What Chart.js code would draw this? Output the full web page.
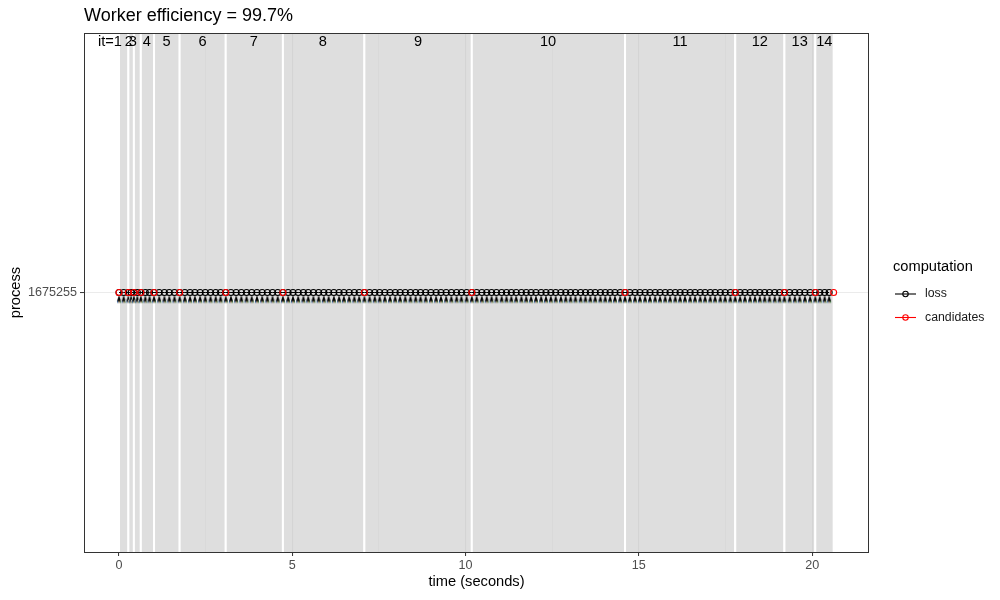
<!DOCTYPE html>
<html>
<head>
<meta charset="utf-8">
<script src="https://cdn.jsdelivr.net/npm/chart.js@4"></script>
<style>
  body { margin: 0; background: #fff; }
</style>
</head>
<body>
<canvas id="myChart" width="1000" height="600"></canvas>
<script>
  const FONT = "'Liberation Sans', Arial, sans-serif";

  // data
  const processId = 1675255;
  const plotTitle = 'Worker efficiency = 99.7%';
  const iterBounds = [0, 0.27, 0.43, 0.63, 1.01, 1.75, 3.08, 4.73, 7.08, 10.18, 14.60, 17.78, 19.20, 20.09, 20.62];
  const iterLabels = ['it=1', '2', '3', '4', '5', '6', '7', '8', '9', '10', '11', '12', '13', '14'];
  const iterLabelTimes = [-0.26, 0.28, 0.40, 0.80, 1.37, 2.41, 3.89, 5.88, 8.63, 12.38, 16.19, 18.49, 19.64, 20.35];
  const lossTimes = [
    0, 0.135,
    0.27, 0.35,
    0.43, 0.53,
    0.63, 0.76, 0.88,
    1.01, 1.16, 1.31, 1.45, 1.60,
    1.75, 1.90, 2.05, 2.19, 2.34, 2.49, 2.64, 2.79, 2.93,
    3.08, 3.23, 3.38, 3.53, 3.68, 3.83, 3.98, 4.13, 4.28, 4.43, 4.58,
    4.73, 4.88, 5.02, 5.17, 5.32, 5.46, 5.61, 5.76, 5.91, 6.05, 6.20, 6.35, 6.49, 6.64, 6.79, 6.93,
    7.08, 7.23, 7.38, 7.52, 7.67, 7.82, 7.97, 8.11, 8.26, 8.41, 8.56, 8.70, 8.85, 9.00, 9.15, 9.29, 9.44, 9.59, 9.74, 9.88, 10.03,
    10.18, 10.32, 10.47, 10.61, 10.75, 10.89, 11.04, 11.18, 11.32, 11.46, 11.61, 11.75, 11.89, 12.03, 12.18, 12.32,
    12.46, 12.60, 12.75, 12.89, 13.03, 13.17, 13.32, 13.46, 13.60, 13.74, 13.89, 14.03, 14.17, 14.31, 14.46,
    14.60, 14.74, 14.89, 15.03, 15.18, 15.32, 15.47, 15.61, 15.76, 15.90, 16.05, 16.19, 16.33, 16.48, 16.62, 16.77,
    16.91, 17.06, 17.20, 17.35, 17.49, 17.64,
    17.78, 17.92, 18.06, 18.21, 18.35, 18.49, 18.63, 18.77, 18.92, 19.06,
    19.20, 19.35, 19.50, 19.64, 19.79, 19.94,
    20.09, 20.22, 20.36, 20.49
  ];
  const candidateTimes = [0, 0.27, 0.43, 0.63, 1.01, 1.75, 3.08, 4.73, 7.08, 10.18, 14.60, 17.78, 19.20, 20.09, 20.62];
  const xMajorTicks = [0, 5, 10, 15, 20];
  const xMinorTicks = [2.5, 7.5, 12.5, 17.5];
  const seriesNames = ['loss', 'candidates'];
  const seriesColors = ['#000000', '#FF0000'];

  // little stem + triangle marker drawn under each loss point
  function makeStemMarker() {
    let c = document.createElement('canvas');
    c.width = 10; c.height = 24;
    let g = c.getContext('2d');
    // white halo so neighbouring stems stay apart
    g.fillStyle = '#ffffff';
    g.beginPath();
    g.moveTo(5, 14); g.lineTo(8.2, 21); g.lineTo(1.8, 21); g.closePath();
    g.fill();
    g.fillStyle = '#000';
    g.beginPath();
    g.moveTo(5, 14.5); g.lineTo(7.2, 21); g.lineTo(2.8, 21); g.closePath();
    g.fill();
    g.fillStyle = '#3f6ea8'; g.fillRect(3, 20.5, 1.5, 1.8);
    g.fillStyle = '#a0662e'; g.fillRect(4.5, 20.5, 1.2, 1.8);
    g.fillStyle = '#4f8a5a'; g.fillRect(5.7, 20.5, 1.3, 1.8);
    return c;
  }

  const iterationPlugin = {
    id: 'iterations',
    beforeDatasetsDraw(chart) {
      let {ctx, chartArea: a, scales: {x}} = chart;
      ctx.save();
      ctx.beginPath();
      ctx.rect(a.left, a.top, a.right - a.left, a.bottom - a.top);
      ctx.clip();
      for (let i = 0; i < iterBounds.length - 1; i++) {
        let x0 = x.getPixelForValue(iterBounds[i]);
        let x1 = x.getPixelForValue(iterBounds[i + 1]);
        ctx.fillStyle = 'rgba(190,190,190,0.5)';
        ctx.fillRect(x0, a.top, x1 - x0, a.bottom - a.top);
        ctx.strokeStyle = '#ffffff';
        ctx.lineWidth = 2;
        ctx.strokeRect(x0, a.top - 3, x1 - x0, a.bottom - a.top + 6);
      }
      ctx.restore();
    },
    afterDatasetsDraw(chart) {
      let {ctx, chartArea: a, scales: {x}} = chart;
      ctx.save();
      ctx.fillStyle = '#000';
      ctx.font = '14.6px ' + FONT;
      ctx.textAlign = 'center';
      ctx.textBaseline = 'middle';
      iterLabels.forEach(function(lab, i) {
        ctx.fillText(lab, x.getPixelForValue(iterLabelTimes[i]), a.top + 8.5);
      });
      // panel border
      ctx.strokeStyle = '#333333';
      ctx.lineWidth = 1;
      ctx.strokeRect(a.left + 0.5, a.top + 0.5, a.right - a.left - 1, a.bottom - a.top);
      ctx.restore();
    },
    afterDraw(chart) {
      let {ctx, chartArea: a} = chart;
      ctx.save();
      ctx.fillStyle = '#000';
      ctx.textBaseline = 'middle';
      ctx.font = '18px ' + FONT;
      ctx.textAlign = 'left';
      ctx.fillText(plotTitle, a.left, 16);

      ctx.font = '14.67px ' + FONT;
      ctx.textAlign = 'center';
      ctx.fillText('time (seconds)', (a.left + a.right) / 2, 582);
      ctx.save();
      ctx.translate(16, (a.top + a.bottom) / 2);
      ctx.rotate(-Math.PI / 2);
      ctx.fillText('process', 0, 0);
      ctx.restore();

      // legend
      ctx.textAlign = 'left';
      ctx.fillText('computation', 893, 267);
      ctx.font = '12.3px ' + FONT;
      seriesNames.forEach(function(name, i) {
        let y = 294 + i * 23.5;
        ctx.strokeStyle = seriesColors[i];
        ctx.lineWidth = 1.1;
        ctx.beginPath();
        ctx.moveTo(895, y); ctx.lineTo(916, y);
        ctx.stroke();
        ctx.beginPath();
        ctx.arc(905.5, y, 2.7, 0, Math.PI * 2);
        ctx.stroke();
        ctx.fillStyle = '#1a1a1a';
        ctx.fillText(name, 925, y);
      });
      ctx.restore();
    }
  };

  let ctx = document.getElementById('myChart').getContext('2d');

  let chart = new Chart(ctx, {
    type: 'scatter',
    data: {
      datasets: [{
        label: 'starts',
        data: lossTimes.map(t => ({x: t, y: processId})),
        pointStyle: makeStemMarker(),
        showLine: false,
        order: 3
      },
      {
        label: seriesNames[0],
        data: lossTimes.map(t => ({x: t, y: processId})),
        showLine: true,
        borderColor: seriesColors[0],
        borderWidth: 1,
        pointBorderColor: seriesColors[0],
        pointBackgroundColor: 'rgba(0,0,0,0)',
        pointRadius: 3,
        pointBorderWidth: 1.1,
        order: 2
      },
      {
        label: seriesNames[1],
        data: candidateTimes.map(t => ({x: t, y: processId})),
        showLine: false,
        pointBorderColor: seriesColors[1],
        pointBackgroundColor: 'rgba(0,0,0,0)',
        pointRadius: 3,
        pointBorderWidth: 1.1,
        order: 1
      }]
    },
    options: {
      responsive: false,
      animation: false,
      layout: { padding: { left: 0, top: 33, right: 131, bottom: 0 } },
      plugins: {
        legend: { display: false },
        tooltip: { enabled: false }
      },
      scales: {
        x: {
          type: 'linear',
          min: -1.01,
          max: 21.64,
          afterFit(s) { s.height = 48; },
          afterBuildTicks(s) {
            s.ticks = xMajorTicks.concat(xMinorTicks).sort((a, b) => a - b).map(v => ({value: v}));
          },
          ticks: {
            autoSkip: false,
            maxRotation: 0,
            padding: 2,
            color: '#4D4D4D',
            font: { family: FONT, size: 12.6 },
            callback: v => xMajorTicks.includes(v) ? String(v) : ''
          },
          grid: {
            color: '#EBEBEB',
            lineWidth: c => xMajorTicks.includes(c.tick.value) ? 1.1 : 0.55,
            tickLength: 4,
            tickColor: c => xMajorTicks.includes(c.tick.value) ? '#333333' : 'rgba(0,0,0,0)',
            tickWidth: 1
          },
          border: { display: false }
        },
        y: {
          type: 'linear',
          min: processId - 0.6,
          max: processId + 0.6,
          afterFit(s) { s.width = 84; },
          afterBuildTicks(s) { s.ticks = [{value: processId}]; },
          ticks: {
            padding: 3,
            color: '#4D4D4D',
            font: { family: FONT, size: 12.6 },
            callback: v => String(v)
          },
          grid: {
            color: '#EBEBEB',
            lineWidth: 1.1,
            tickLength: 4,
            tickColor: '#333333',
            tickWidth: 1
          },
          border: { display: false }
        }
      }
    },
    plugins: [iterationPlugin]
  });
</script>
</body>
</html>
